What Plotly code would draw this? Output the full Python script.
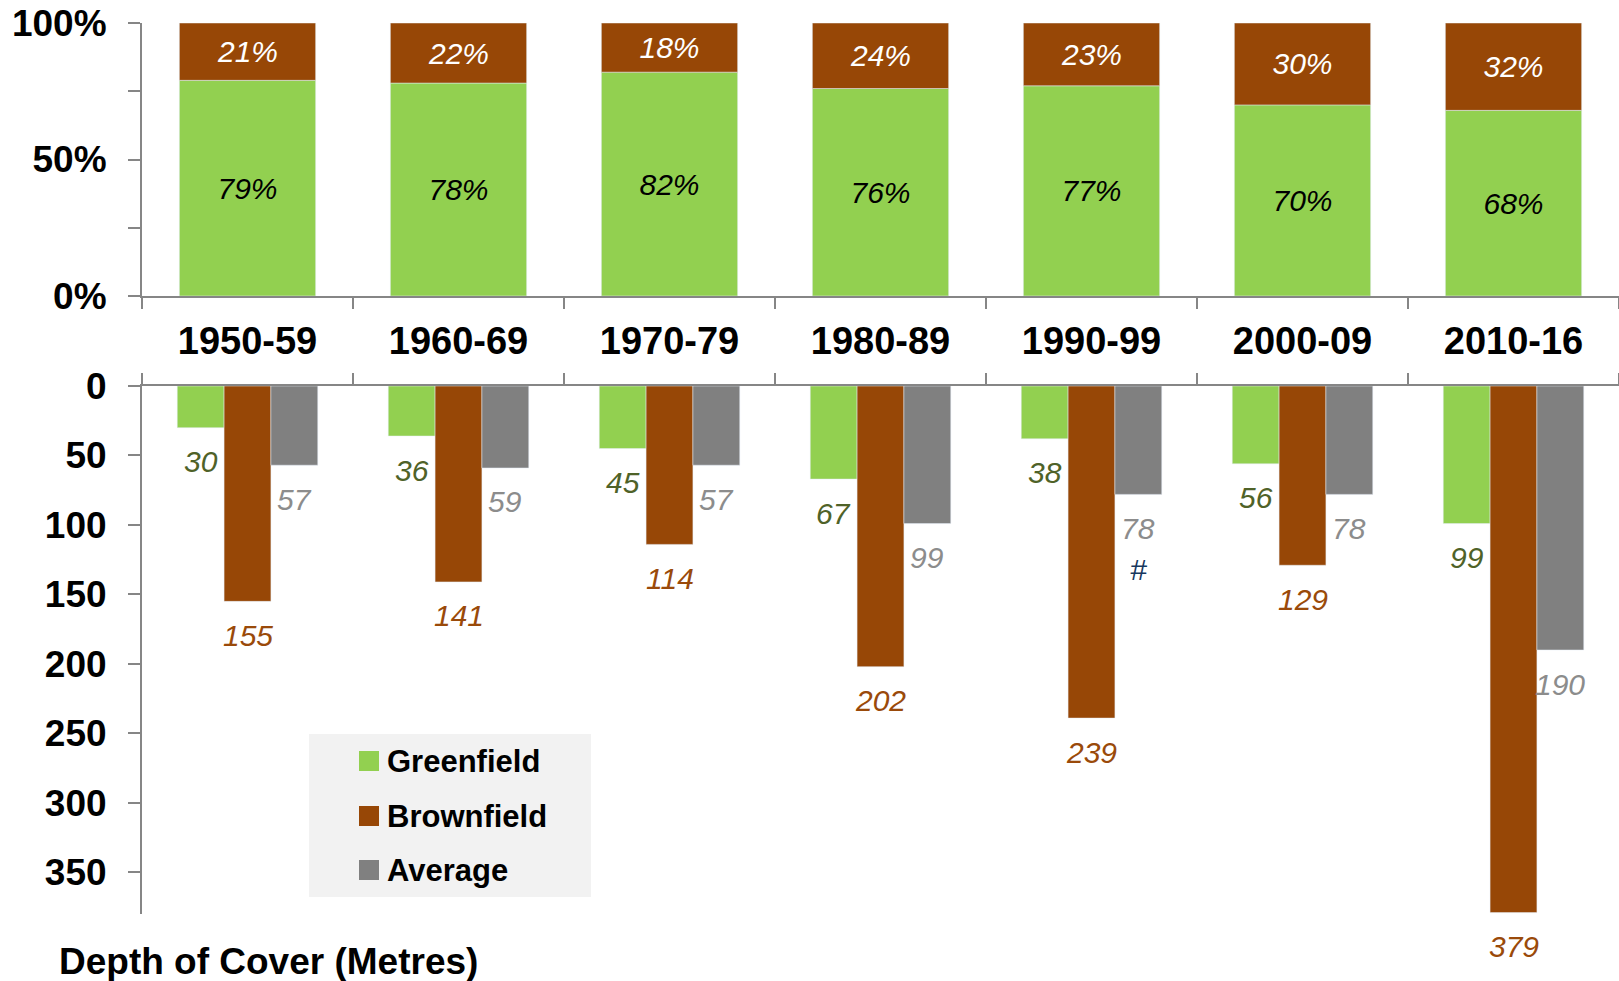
import plotly.graph_objects as go

# ---- data ----
periods = ["1950-59", "1960-69", "1970-79", "1980-89", "1990-99", "2000-09", "2010-16"]
green_share = [79, 78, 82, 76, 77, 70, 68]      # % of mines, greenfield
brown_share = [21, 22, 18, 24, 23, 30, 32]      # % of mines, brownfield
green_depth = [30, 36, 45, 67, 38, 56, 99]      # depth of cover (m)
brown_depth = [155, 141, 114, 202, 239, 129, 379]
avg_depth = [57, 59, 57, 99, 78, 78, 190]
footnote_period = "1990-99"
footnote_mark = "#"
share_ticks = [0, 25, 50, 75, 100]
share_ticktext = ["0%", "", "50%", "", "100%"]
depth_ticks = [0, 50, 100, 150, 200, 250, 300, 350]
legend_labels = ["Greenfield", "Brownfield", "Average"]

# ---- style ----
GREEN, BROWN, GRAY = "#92D050", "#974706", "#808080"
GREEN_TXT, BROWN_TXT, GRAY_TXT, NOTE_TXT = "#4F6228", "#9A4A0A", "#8C8C8C", "#17375E"
AXIS = "#868686"
FONT = "Liberation Sans, Arial, sans-serif"
LABEL_SIZE = 30

W, H = 1619, 981
ML, MR, MT, MB = 142, 0, 23, 67
PW, PH = W - ML - MR, H - MT - MB
CAT_PX = PW / len(periods)

def px_x(px):
    return (px - ML) / PW

def px_y(py):
    return (H - MB - py) / PH

TOP_DOMAIN = [px_y(296), 1]
BOT_DOMAIN = [0, px_y(386)]

TOP_W = 0.646
GRP_W = 0.222
grp_offsets = [-1.5 * GRP_W, -0.5 * GRP_W, 0.5 * GRP_W]

fig = go.Figure()

# share of mines (top panel, stacked to 100%)
fig.add_trace(go.Bar(
    x=periods, y=green_share, width=TOP_W, marker_color=GREEN,
    xaxis="x", yaxis="y", showlegend=False,
    text=[f"{v}%" for v in green_share], textposition="inside",
    insidetextanchor="middle", constraintext="none",
    textfont=dict(family=FONT, size=LABEL_SIZE, color="black", style="italic"),
    hoverinfo="skip",
))
fig.add_trace(go.Bar(
    x=periods, y=brown_share, base=green_share, width=TOP_W, marker_color=BROWN,
    xaxis="x", yaxis="y", showlegend=False,
    text=[f"{v}%" for v in brown_share], textposition="inside",
    insidetextanchor="middle", constraintext="none",
    textfont=dict(family=FONT, size=LABEL_SIZE, color="white", style="italic"),
    hoverinfo="skip",
))

# depth of cover (bottom panel, grouped, axis reversed)
depth_series = [
    (green_depth, GREEN, GREEN_TXT),
    (brown_depth, BROWN, BROWN_TXT),
    (avg_depth, GRAY, GRAY_TXT),
]
for (vals, col, tcol), off in zip(depth_series, grp_offsets):
    fig.add_trace(go.Bar(
        x=periods, y=vals, width=GRP_W, offset=off, marker_color=col,
        xaxis="x2", yaxis="y2", showlegend=False, hoverinfo="skip",
    ))
    shift = (off + GRP_W / 2) * CAT_PX
    for p, v in zip(periods, vals):
        fig.add_annotation(
            x=p, y=v, xref="x2", yref="y2", text=str(v), showarrow=False,
            xshift=shift, yshift=-34, yanchor="middle",
            font=dict(family=FONT, size=LABEL_SIZE, color=tcol, style="italic"),
        )

# footnote marker under the average value
fi = periods.index(footnote_period)
fig.add_annotation(
    x=footnote_period, y=avg_depth[fi], xref="x2", yref="y2", text=footnote_mark,
    showarrow=False, xshift=(grp_offsets[2] + GRP_W / 2) * CAT_PX, yshift=-75,
    yanchor="middle", font=dict(family=FONT, size=30, color=NOTE_TXT, style="italic"),
)

# legend panel
shapes = [dict(type="rect", xref="paper", yref="paper",
               x0=px_x(309), x1=px_x(591), y0=px_y(897), y1=px_y(734),
               fillcolor="#F2F2F2", line=dict(width=0), layer="above")]
legend_rows = [(GREEN, 761), (BROWN, 816), (GRAY, 870)]
for (col, cy), lab in zip(legend_rows, legend_labels):
    shapes.append(dict(type="rect", xref="paper", yref="paper",
                       x0=px_x(359), x1=px_x(379), y0=px_y(cy + 10), y1=px_y(cy - 10),
                       fillcolor=col, line=dict(width=0), layer="above"))
    fig.add_annotation(
        x=px_x(385), y=px_y(cy), xref="paper", yref="paper", text=lab,
        showarrow=False, xanchor="left", yanchor="middle",
        font=dict(family=FONT, size=31, color="black", weight="bold"),
    )

fig.add_annotation(
    x=px_x(57), y=px_y(961), xref="paper", yref="paper",
    text="Depth of Cover (Metres)", showarrow=False, xanchor="left", yanchor="middle",
    font=dict(family=FONT, size=37, color="black", weight="bold"),
)

axis_common = dict(showline=True, linecolor=AXIS, linewidth=2, ticks="outside",
                   tickcolor=AXIS, tickwidth=2, showgrid=False, zeroline=False)

fig.update_layout(
    width=W, height=H,
    margin=dict(l=ML, r=MR, t=MT, b=MB),
    paper_bgcolor="white", plot_bgcolor="white",
    barmode="overlay",
    shapes=shapes,
    xaxis=dict(anchor="y", domain=[0, 1], type="category", range=[-0.5, 6.5],
               tickson="boundaries", ticklen=11, ticklabelstandoff=10,
               tickfont=dict(family=FONT, size=38, color="black", weight="bold"),
               **axis_common),
    yaxis=dict(anchor="x", domain=TOP_DOMAIN, range=[0, 100],
               tickvals=share_ticks, ticktext=share_ticktext, ticklen=12,
               ticklabelstandoff=14,
               tickfont=dict(family=FONT, size=37, color="black", weight="bold"),
               **axis_common),
    xaxis2=dict(anchor="y2", domain=[0, 1], type="category", range=[-0.5, 6.5],
                side="top", tickson="boundaries", ticklen=11, showticklabels=False,
                **axis_common),
    yaxis2=dict(anchor="x2", domain=BOT_DOMAIN, range=[380, 0],
                tickvals=depth_ticks, ticklen=12, ticklabelstandoff=14,
                tickfont=dict(family=FONT, size=37, color="black", weight="bold"),
                **axis_common),
)

fig.write_html("out.html")
